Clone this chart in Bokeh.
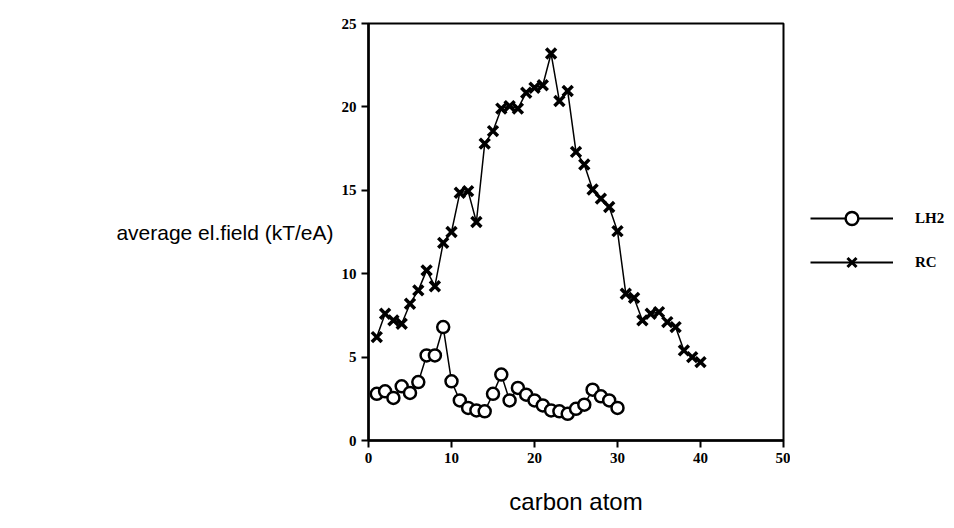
from bokeh.plotting import figure
from bokeh.layouts import row
from bokeh.models import Range1d, Legend, LegendItem, FixedTicker
from bokeh.embed import file_html
from bokeh.resources import INLINE

# ---- data ----
lh2_x = list(range(1, 31))
lh2_y = [2.8, 2.95, 2.55, 3.25, 2.85, 3.5, 5.1, 5.1, 6.8, 3.55,
         2.4, 1.95, 1.8, 1.75, 2.8, 3.95, 2.4, 3.15, 2.75, 2.4,
         2.1, 1.8, 1.75, 1.6, 1.9, 2.15, 3.05, 2.65, 2.4, 1.95]

rc_x = list(range(1, 41))
rc_y = [6.2, 7.6, 7.2, 7.0, 8.2, 9.0, 10.2, 9.25, 11.85, 12.5,
        14.85, 14.95, 13.1, 17.8, 18.55, 19.9, 20.05, 19.9, 20.85, 21.15,
        21.3, 23.2, 20.35, 20.95, 17.3, 16.55, 15.05, 14.5, 14.0, 12.55,
        8.8, 8.55, 7.2, 7.6, 7.7, 7.1, 6.8, 5.4, 5.0, 4.7]

x_ticks = [0, 10, 20, 30, 40, 50]
y_ticks = [0, 5, 10, 15, 20, 25]
series_names = ["LH2", "RC"]
x_title = "carbon atom"
y_title = "average el.field (kT/eA)"

# ---- main figure ----
p = figure(width=790, height=520, output_backend="svg", toolbar_location=None,
           x_range=Range1d(0, 50), y_range=Range1d(0, 25),
           min_border_left=368, min_border_right=7,
           min_border_top=23, min_border_bottom=80)
p.background_fill_color = "white"
p.border_fill_color = "white"
p.outline_line_color = "black"
p.outline_line_width = 2
p.grid.visible = False

for ax in (p.xaxis[0], p.yaxis[0]):
    ax.axis_line_width = 2.5
    ax.axis_line_color = "black"
    ax.major_tick_line_width = 2
    ax.major_tick_out = 7
    ax.major_tick_in = 0
    ax.minor_tick_line_color = None
    ax.major_label_text_font = "Liberation Serif"
    ax.major_label_text_font_style = "bold"
    ax.major_label_text_font_size = "15px"
    ax.major_label_text_color = "black"
    ax.major_label_standoff = 5
    ax.axis_label_text_font = "Liberation Sans"
    ax.axis_label_text_font_style = "normal"
    ax.axis_label_text_color = "black"
p.xaxis.ticker = FixedTicker(ticks=x_ticks)
p.yaxis.ticker = FixedTicker(ticks=y_ticks)

p.xaxis.axis_label = x_title
p.xaxis.axis_label_text_font_size = "24px"
p.xaxis.axis_label_standoff = 22
p.yaxis.axis_label = y_title
p.yaxis.axis_label_text_font_size = "21px"
p.yaxis.axis_label_standoff = 5
yax = p.yaxis[0]
if "axis_label_orientation" in yax.properties():
    yax.axis_label_orientation = "horizontal"

l1 = p.line(lh2_x, lh2_y, line_color="black", line_width=1.5)
c1 = p.scatter(lh2_x, lh2_y, marker="circle", size=12, fill_color="white",
               line_color="black", line_width=2.5)
l2 = p.line(rc_x, rc_y, line_color="black", line_width=1.5)
c2 = p.scatter(rc_x, rc_y, marker="x", size=14, line_color="black", line_width=3.5)

# ---- legend panel: renderers hold only NaN (nothing drawn), they carry the styles ----
nan = [float("nan")]
q = figure(width=156, height=520, output_backend="svg", toolbar_location=None,
           min_border_left=0, min_border_right=0, min_border_top=0, min_border_bottom=0)
q.axis.visible = False
q.grid.visible = False
q.outline_line_color = None
q.background_fill_color = "white"
q.border_fill_color = "white"
ql1 = q.line(x=nan, y=nan, line_color="black", line_width=2)
qc1 = q.scatter(x=nan, y=nan, marker="circle", size=13, fill_color="white",
                line_color="black", line_width=2.5)
ql2 = q.line(x=nan, y=nan, line_color="black", line_width=2)
qc2 = q.scatter(x=nan, y=nan, marker="x", size=13, line_color="black", line_width=3)

legend = Legend(items=[LegendItem(label=series_names[0], renderers=[ql1, qc1]),
                       LegendItem(label=series_names[1], renderers=[ql2, qc2])],
                location=(20, 162), orientation="vertical",
                padding=0, margin=0, spacing=12,
                glyph_width=83, glyph_height=32, label_standoff=22,
                border_line_alpha=0, background_fill_alpha=0,
                label_text_font="Liberation Serif", label_text_font_style="bold",
                label_text_font_size="15px", label_text_color="black")
q.add_layout(legend, "center")

layout = row(p, q)
open("out.html", "w").write(file_html(layout, INLINE))
